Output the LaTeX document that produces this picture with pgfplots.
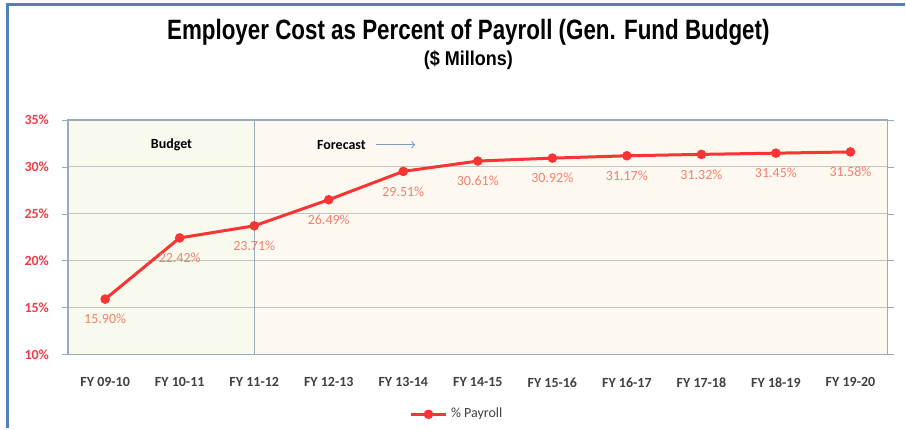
\documentclass[border=0pt]{standalone}
\usepackage{fontspec}
\setmainfont{Carlito}
\newfontfamily\titlefont[FakeStretch=0.80]{Liberation Sans}
\newfontfamily\subfont[FakeStretch=0.90]{Liberation Sans}
\usepackage{pgfplots}
\pgfplotsset{compat=1.18}
\definecolor{bframe}{HTML}{4F81BD}
\definecolor{axframe}{HTML}{9AAABB}
\definecolor{gridc}{HTML}{C4C4C4}
\definecolor{bgbudget}{HTML}{F8FAEE}
\definecolor{bgfore}{HTML}{FEF9F0}
\definecolor{linered}{HTML}{F93434}
\definecolor{ticklab}{HTML}{F03C46}
\definecolor{datalab}{HTML}{F47F6E}
\definecolor{xlab}{HTML}{404040}
\definecolor{arrowc}{HTML}{7F9CC0}
\begin{document}
\begin{tikzpicture}
\begin{axis}[
  set layers,
  /pgf/number format/assume math mode=true,
  at={(34pt,37pt)}, anchor=south west,
  scale only axis, width=410.5pt, height=117.5pt,
  xmin=-0.5, xmax=10.5, ymin=10, ymax=35,
  xtick={0,...,10},
  xticklabels={FY 09-10,FY 10-11,FY 11-12,FY 12-13,FY 13-14,FY 14-15,FY 15-16,FY 16-17,FY 17-18,FY 18-19,FY 19-20},
  ytick={10,15,...,35},
  yticklabels={10\%,15\%,20\%,25\%,30\%,35\%},
  xtick style={draw=none},
  ytick style={draw=axframe},
  tick align=outside,
  major tick length=3pt,
  ymajorgrids, grid style={gridc, line width=0.6pt},
  axis line style={axframe, line width=0.7pt},
  xticklabel style={font=\fontsize{7}{8}\selectfont\bfseries, text=xlab, yshift=-5pt},
  yticklabel style={font=\fontsize{7}{8}\selectfont\bfseries, text=ticklab, xshift=-3pt},
  legend style={at={(0.476,-0.255)}, anchor=center, draw=none, fill=none, font=\fontsize{7}{8}\selectfont, text=xlab},
]
\addplot[on layer=axis background, fill=bgbudget, draw=none, forget plot] coordinates {(-0.5,10) (-0.5,35) (2,35) (2,10)} -- cycle;
\addplot[on layer=axis background, fill=bgfore, draw=none, forget plot] coordinates {(2,10) (2,35) (10.5,35) (10.5,10)} -- cycle;
\addplot[on layer=axis grid, axframe, line width=0.7pt, forget plot] coordinates {(2,10) (2,35)};
\addplot[linered, line width=1.5pt, mark=*, mark size=1.6pt, mark options={fill=linered, draw=linered},
  nodes near coords={\pgfmathprintnumber[fixed,fixed zerofill,precision=2,assume math mode=true]{\pgfplotspointmeta}\%},
  every node near coord/.append style={anchor=center, yshift=-10pt, font=\fontsize{7}{8}\selectfont, text=datalab},
  point meta=y]
coordinates {(0,15.90) (1,22.42) (2,23.71) (3,26.49) (4,29.51) (5,30.61) (6,30.92) (7,31.17) (8,31.32) (9,31.45) (10,31.58)};
\addlegendentry{\% Payroll}
\node[font=\fontsize{7}{8}\selectfont\bfseries, text=black] at (axis cs:0.89,32.34) {Budget};
\node[font=\fontsize{7}{8}\selectfont\bfseries, text=black] at (axis cs:3.17,32.34) {Forecast};
\draw[arrowc, ->, line width=0.5pt] (axis cs:3.64,32.34) -- (axis cs:4.16,32.34);
\end{axis}
\path (0,0) rectangle (453pt,214.5pt);
\draw[bframe, line width=1.3pt] (3.75pt,0) -- (3.75pt,212.25pt) -- (453pt,212.25pt);
\node[font=\titlefont\bfseries\fontsize{14}{16}\selectfont, text=black] at (234.5pt,198.5pt) {Employer Cost as Percent of Payroll (Gen. Fund Budget)};
\node[font=\subfont\bfseries\fontsize{10}{12}\selectfont, text=black] at (234.5pt,184.5pt) {(\$ Millons)};
\end{tikzpicture}
\end{document}
